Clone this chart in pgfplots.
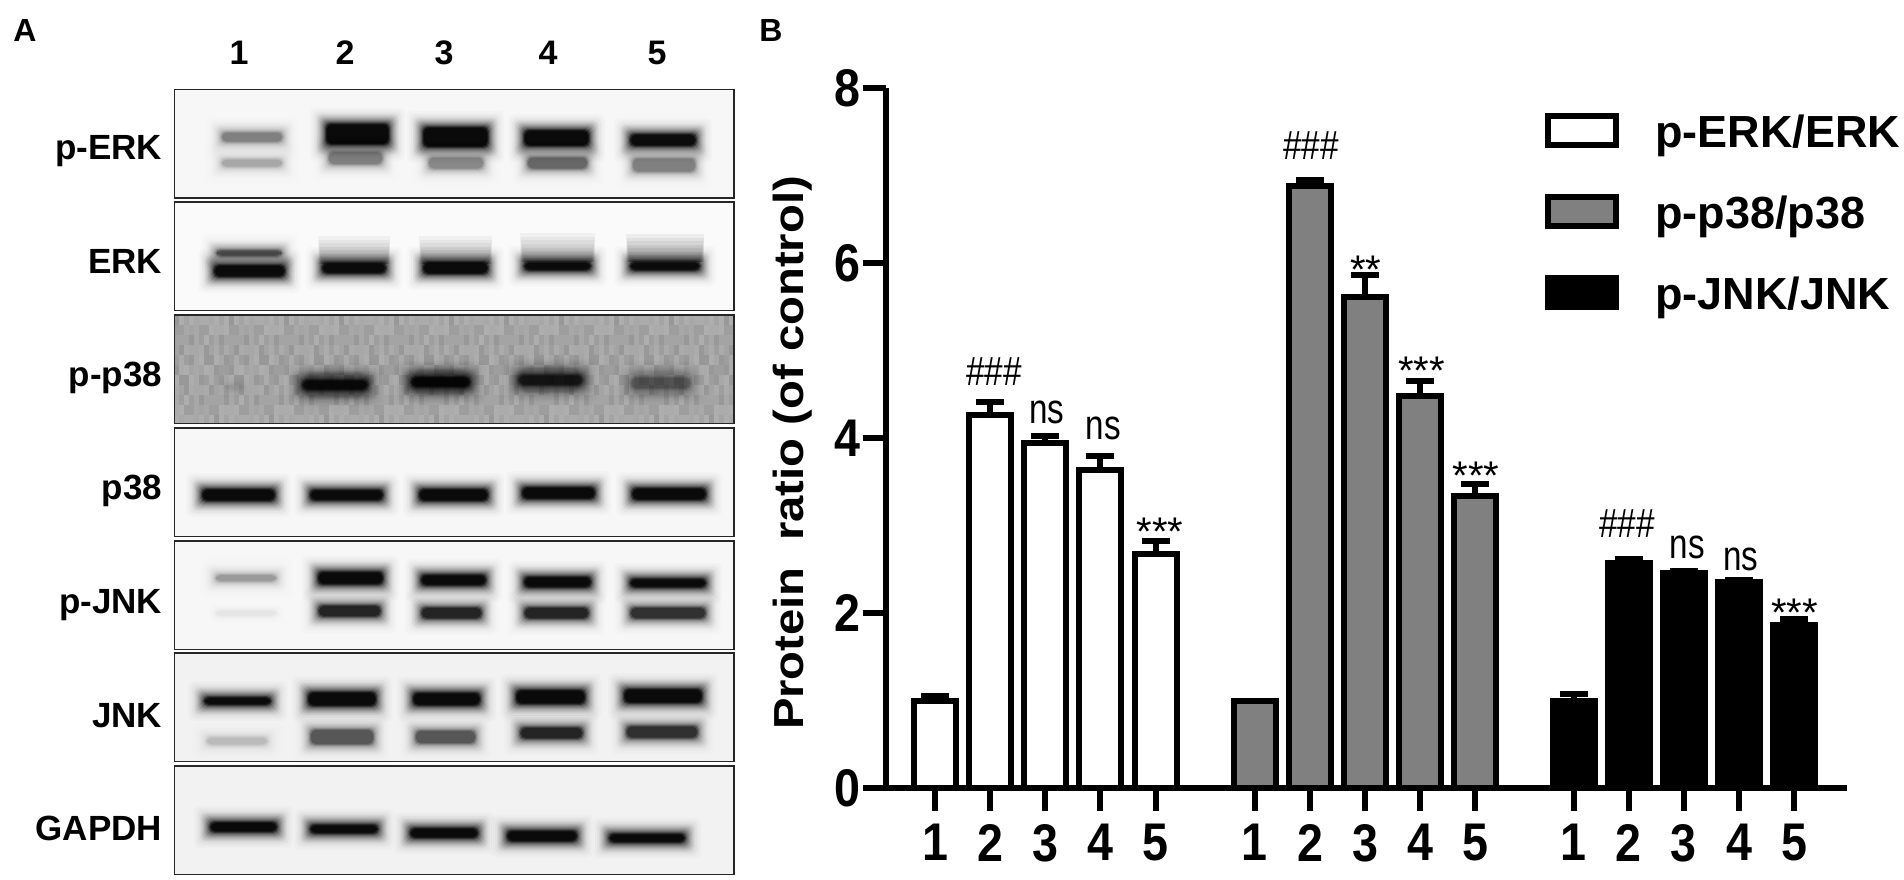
\documentclass[border=0pt]{standalone}
\usepackage{pgfplots}
\usepackage{pgfplotstable}
\usepackage{fontspec}
\pgfplotsset{compat=1.18}
\setmainfont{Liberation Sans}
\newcommand{\fs}[1]{\fontsize{#1}{#1}\selectfont}
\newcommand{\tk}[1]{\scalebox{.88}[1]{#1}}
\pgfplotstableread{
x y e
0 0.99 0.06
1 4.26 0.15
2 3.94 0.08
3 3.63 0.16
4 2.67 0.15
}\erk
\pgfplotstableread{
x y e
5.8 0.99 0.00
6.8 6.88 0.07
7.8 5.61 0.25
8.8 4.48 0.17
9.8 3.34 0.13
}\pp
\pgfplotstableread{
x y e
11.58 0.99 0.09
12.58 2.57 0.05
13.58 2.46 0.02
14.58 2.36 0.02
15.58 1.86 0.07
}\jnk
% one blurred blot band: x0 x1 ycentre height darkness
\newcommand{\B}[5]{%
 \foreach \e/\k in {14/.015,12/.02,10/.03,8/.04,7/.04,6/.05,5/.06,4/.08,3/.09,2/.12,1/.15,0/.2,-1/.4,-2/.5,-3/.6}{%
  \pgfmathsetmacro{\op}{min(1,#5*\k)}%
  \pgfmathsetmacro{\hh}{max(#4/2+2+\e,0.5)}%
  \fill[black,opacity=\op,rounded corners=2.5pt] (#1-\e,#3-\hh) rectangle (#2+\e,#3+\hh);
 }}
% soft smear above a band: x0 x1 ytop ybottom darkness-per-layer
\newcommand{\Sm}[5]{%
 \foreach \q in {0,1,2,3,4,5,6,7}{%
  \pgfmathsetmacro{\tp}{#3+\q*(#4-#3)/8}%
  \fill[black,opacity=#5] (#1-4+\q*0.5,\tp) rectangle (#2+4-\q*0.5,#4);
 }}
\newcommand{\Panel}[2]{\fill[#2] (174.4,#1) rectangle (734,#1+108.5);}
\newcommand{\Frame}[1]{\draw[black!85,line width=0.8pt] (174.4,#1) rectangle (734,#1+108.5);}
\newcommand{\Hash}[2]{\node[anchor=base,inner sep=0pt] at (axis cs:#1,#2) {\fs{18.5}\scalebox{.9}[1.1]{\#\#\#}};}
\newcommand{\NS}[2]{\node[anchor=base,inner sep=0pt] at (axis cs:#1,#2) {\fs{20}\scalebox{.83}[1.05]{ns}};}
\newcommand{\St}[3]{\node[anchor=base,inner sep=0pt] at (axis cs:#1,#2) {\fs{20}#3};}
\begin{document}
\begin{tikzpicture}
\useasboundingbox (0,0) rectangle (952pt,-439.5pt);
\begin{scope}[x=0.5pt,y=-0.5pt]
 \node[anchor=base west,inner sep=0pt,font=\fs{16}\bfseries] at (13,41) {A};
 \node[anchor=base west,inner sep=0pt,font=\fs{16}\bfseries] at (759,41) {B};
 \foreach \x/\t in {239/1,345/2,444/3,548/4,657/5}
  \node[anchor=base,inner sep=0pt,font=\fs{17}\bfseries] at (\x,64) {\t};
 \foreach \y/\t in {159/p-ERK,273/ERK,386/p-p38,499/p38,613/p-JNK,727/JNK,840/GAPDH}
  \node[anchor=base east,inner sep=0pt,font=\fs{17.5}\bfseries] at (162.5,\y) {\t};
 % panels
 \Panel{89.5}{black!3}\Panel{202}{black!2}\Panel{315}{black!34}\Panel{428}{black!3}
 \Panel{541}{black!3}\Panel{653}{black!5}\Panel{766}{black!5}
 % p-p38 grain
 \begin{scope}
 \clip (174.4,315) rectangle (734,423.5);
 \foreach \i in {0,...,111}{\foreach \j in {0,...,10}{%
   \pgfmathtruncatemacro{\m}{mod(mod(\i*\i,11)+\j*13+\i*\j*5,11)}%
   \pgfmathsetmacro{\o}{0.018*abs(\m-5)}%
   \ifodd\m\relax\fill[white,opacity=\o] (174.4+\i*5,315+\j*10) rectangle +(5,10);
   \else\fill[black,opacity=\o] (174.4+\i*5,315+\j*10) rectangle +(5,10);\fi
 }}
 \end{scope}
 % p-ERK
 \B{219}{285}{137}{11}{.25}\B{219}{285}{163}{9}{.15}
 \B{324}{391}{134}{21}{1}\B{326}{385}{158}{14}{.25}
 \B{421}{490}{137}{20}{1}\B{426}{486}{163}{13}{.23}
 \B{522}{591}{138}{16}{1}\B{525}{590}{163}{13}{.33}
 \B{628}{698}{140}{12}{.96}\B{630}{698}{165}{15}{.25}
 % ERK
 \B{214}{284}{253}{7}{.44}\B{212}{287}{271}{12}{1}
 \Sm{322}{386}{236}{264}{.04}\B{320}{388}{268}{11}{1}
 \Sm{423}{488}{236}{264}{.04}\B{421}{490}{268}{12}{1}
 \Sm{524}{591}{233}{262}{.04}\B{522}{593}{266}{9}{1}
 \Sm{630}{700}{234}{262}{.05}\B{628}{702}{266}{9}{1}
 % p-p38
 \B{224}{245}{387}{6}{.04}
 \B{304}{366}{385}{26}{.12}\B{413}{468}{382}{26}{.12}\B{520}{581}{380}{26}{.1}\B{632}{689}{383}{26}{.05}
 \B{300}{370}{385}{10}{.85}\B{409}{472}{382}{10}{1}
 \B{516}{585}{380}{11}{.65}\B{628}{693}{383}{12}{.21}
 % p38
 \B{200}{277}{495}{12}{1}\B{308}{385}{495}{11}{1}\B{417}{490}{495}{12}{1}
 \B{520}{597}{493}{12}{1}\B{630}{708}{494}{12}{1}
 % p-JNK
 \B{213}{279}{578}{8}{.18}\B{213}{279}{613}{7}{.03}
 \B{316}{385}{578}{13}{1}\B{316}{383}{611}{12}{.67}
 \B{419}{488}{580}{11}{1}\B{419}{484}{613}{12}{.67}
 \B{522}{593}{582}{11}{1}\B{522}{591}{613}{12}{.67}
 \B{628}{708}{583}{9}{1}\B{628}{708}{613}{12}{.58}
 % JNK
 \B{202}{273}{701}{8}{.98}\B{204}{270}{741}{9}{.1}
 \B{306}{378}{699}{14}{1}\B{308}{376}{737}{16}{.38}
 \B{411}{482}{699}{13}{1}\B{413}{478}{737}{14}{.38}
 \B{514}{587}{697}{14}{1}\B{518}{585}{733}{12}{.67}
 \B{622}{704}{696}{14}{1}\B{624}{700}{732}{13}{.58}
 % GAPDH
 \B{208}{279}{827}{10}{1}\B{308}{380}{829}{9}{1}\B{408}{480}{833}{10}{1}
 \B{505}{579}{836}{11}{1}\B{607}{687}{838}{9}{1}
 % frames
 \Frame{89.5}\Frame{202}\Frame{315}\Frame{428}\Frame{541}\Frame{653}\Frame{766}
\end{scope}
\begin{axis}[
 at={(442.85pt,-394pt)},anchor=south west,
 scale only axis,width=480.4pt,height=350pt,
 xmin=-0.894,xmax=16.53,ymin=0,ymax=8,
 axis lines*=left,axis line style={-,line width=3pt,black},
 axis on top,clip=false,
 tick align=outside,tick style={line width=3pt,black},major tick length=11.5pt,
 ytick={0,2,4,6,8},
 yticklabels={\tk{0},\tk{2},\tk{4},\tk{6},\tk{8}},
 xtick={0,1,2,3,4,5.8,6.8,7.8,8.8,9.8,11.58,12.58,13.58,14.58,15.58},
 xticklabels={\tk{1},\tk{2},\tk{3},\tk{4},\tk{5},\tk{1},\tk{2},\tk{3},\tk{4},\tk{5},\tk{1},\tk{2},\tk{3},\tk{4},\tk{5}},
 tick label style={font=\fs{26.5}\bfseries},
 xticklabel style={inner sep=0pt,yshift=-6.5pt},
 yticklabel style={inner sep=0pt,xshift=-1pt},
 ylabel={Protein\ \ ratio (of control)},
 ylabel style={font=\fs{21}\bfseries,xscale=1.125,at={(axis description cs:-0.0757,0.4786)},anchor=south,inner sep=0pt,transform shape},
 ybar,bar shift=0pt,bar width=21pt,
 error bars/y dir=plus,error bars/y explicit,
 error bars/error bar style={line width=3pt,black},
 error bars/error mark options={rotate=90,mark size=7pt,line width=3pt,black},
 legend cell align=left,
 legend style={at={(0.6862,0.9643)},anchor=north west,draw=none,fill=none,inner sep=0pt,
   font=\fs{22.5}\bfseries,row sep=18.5pt,
   nodes={inner sep=0pt,text height=17pt,text depth=5pt}},
 myleg/.style={legend image code/.code={\draw[##1,line width=3pt] (0pt,-5pt) rectangle (34pt,9.5pt);\path (52pt,0);}},
]
\addplot[draw=black,line width=3pt,fill=white,myleg] table[x=x,y=y,y error plus=e] {\erk};
\addlegendentry{p-ERK/ERK}
\addplot[draw=black,line width=3pt,fill=black!50,myleg] table[x=x,y=y,y error plus=e] {\pp};
\addlegendentry{p-p38/p38}
\addplot[draw=black,line width=3pt,fill=black,myleg] table[x=x,y=y,y error plus=e] {\jnk};
\addlegendentry{p-JNK/JNK}
\Hash{1.07}{4.60}\Hash{6.82}{7.18}\Hash{12.55}{2.86}
\NS{2.03}{4.17}\NS{3.05}{3.98}\NS{13.64}{2.62}\NS{14.61}{2.49}
\St{4.08}{2.77}{***}\St{8.82}{4.61}{***}\St{9.81}{3.41}{***}\St{15.59}{1.845}{***}
\St{7.81}{5.77}{**}
\end{axis}
\end{tikzpicture}
\end{document}
